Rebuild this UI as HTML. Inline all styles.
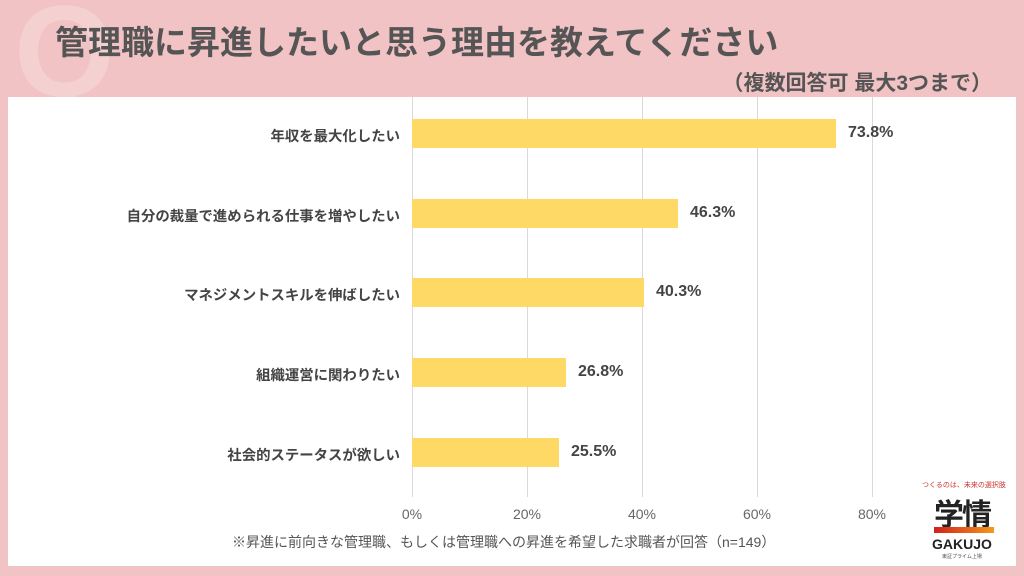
<!DOCTYPE html>
<html><head><meta charset="utf-8"><style>
body{margin:0;width:1024px;height:576px;background:#f1c3c4;position:relative;overflow:hidden;font-family:"Liberation Sans","Noto Sans CJK JP",sans-serif;}
.abs{position:absolute}
.q{left:14px;top:-14px;font-size:130px;font-weight:bold;color:#f4d0d1;line-height:1}
.title{left:55px;top:16px;font-size:33px;font-weight:bold;color:#555;white-space:nowrap}
.sub{right:32px;top:67px;font-size:21px;font-weight:bold;color:#555;white-space:nowrap}
.panel{left:8px;top:97px;width:1008px;height:469px;background:#fff}
.grid{top:97px;width:1px;height:400px;background:#d9d9d9}
.bar{left:412px;height:29px;background:#ffd966}
.lab{right:624px;font-size:14.4px;font-weight:bold;color:#444;text-align:right;white-space:nowrap}
.val{font-size:16px;font-weight:bold;color:#444}
.tick{top:506px;font-size:14px;color:#666;width:60px;text-align:center}
.note{left:232px;top:532px;font-size:14px;color:#555}
</style></head><body>
<div class="abs q">Q</div>
<div class="abs title">管理職に昇進したいと思う理由を教えてください</div>
<div class="abs sub">（複数回答可 最大3つまで）</div>
<div class="abs panel"></div>
<div class="abs grid" style="left:412px"></div>
<div class="abs grid" style="left:527px"></div>
<div class="abs grid" style="left:642px"></div>
<div class="abs grid" style="left:757px"></div>
<div class="abs grid" style="left:872px"></div>

<div class="abs bar" style="top:119px;width:424px"></div>
<div class="abs bar" style="top:199px;width:266px"></div>
<div class="abs bar" style="top:278px;width:232px"></div>
<div class="abs bar" style="top:358px;width:154px"></div>
<div class="abs bar" style="top:438px;width:147px"></div>

<div class="abs lab" style="top:125px">年収を最大化したい</div>
<div class="abs lab" style="top:205px">自分の裁量で進められる仕事を増やしたい</div>
<div class="abs lab" style="top:284px">マネジメントスキルを伸ばしたい</div>
<div class="abs lab" style="top:364px">組織運営に関わりたい</div>
<div class="abs lab" style="top:444px">社会的ステータスが欲しい</div>

<div class="abs val" style="left:848px;top:124px">73.8%</div>
<div class="abs val" style="left:690px;top:204px">46.3%</div>
<div class="abs val" style="left:656px;top:283px">40.3%</div>
<div class="abs val" style="left:578px;top:363px">26.8%</div>
<div class="abs val" style="left:571px;top:443px">25.5%</div>

<div class="abs tick" style="left:382px">0%</div>
<div class="abs tick" style="left:497px">20%</div>
<div class="abs tick" style="left:612px">40%</div>
<div class="abs tick" style="left:727px">60%</div>
<div class="abs tick" style="left:842px">80%</div>
<div class="abs note">※昇進に前向きな管理職、もしくは管理職への昇進を希望した求職者が回答（n=149）</div>

<div class="abs" style="left:922px;top:480px;font-size:7px;color:#c33;white-space:nowrap">つくるのは、未来の選択肢</div>
<div class="abs" style="left:934px;top:490px;font-size:30px;font-weight:bold;color:#222;letter-spacing:-2px">学情</div>
<div class="abs" style="left:934px;top:527px;width:60px;height:6px;background:linear-gradient(90deg,#d0201c,#f39a1e)"></div>
<div class="abs" style="left:932px;top:536px;font-size:14px;font-weight:bold;color:#222">GAKUJO</div>
<div class="abs" style="left:942px;top:553px;font-size:5px;color:#555">東証プライム上場</div>
</body></html>
